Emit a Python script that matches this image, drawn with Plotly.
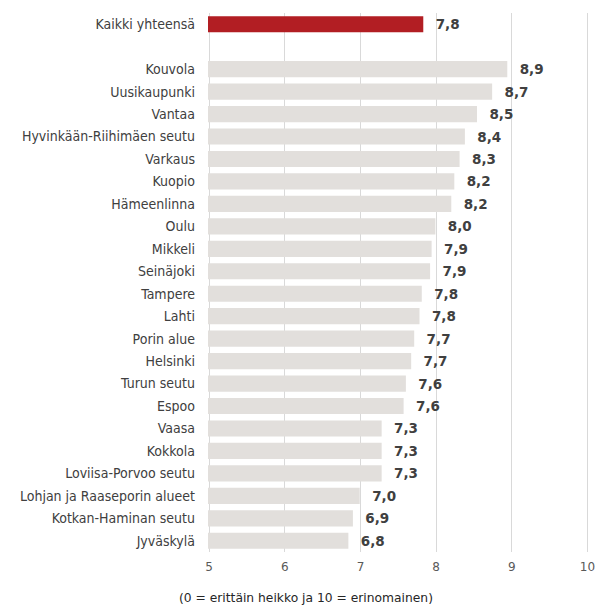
import plotly.graph_objects as go

categories = ["Kaikki yhteensä", " ", "Kouvola", "Uusikaupunki", "Vantaa", "Hyvinkään-Riihimäen seutu",
              "Varkaus", "Kuopio", "Hämeenlinna", "Oulu", "Mikkeli", "Seinäjoki", "Tampere", "Lahti",
              "Porin alue", "Helsinki", "Turun seutu", "Espoo", "Vaasa", "Kokkola", "Loviisa-Porvoo seutu",
              "Lohjan ja Raaseporin alueet", "Kotkan-Haminan seutu", "Jyväskylä"]
values = [7.83, None, 8.94, 8.74, 8.54, 8.38, 8.31, 8.24, 8.20, 7.99, 7.94, 7.92, 7.81, 7.78,
          7.71, 7.67, 7.60, 7.57, 7.28, 7.28, 7.28, 6.99, 6.90, 6.84]
value_labels = ["7,8", "", "8,9", "8,7", "8,5", "8,4", "8,3", "8,2", "8,2", "8,0", "7,9", "7,9", "7,8", "7,8",
                "7,7", "7,7", "7,6", "7,6", "7,3", "7,3", "7,3", "7,0", "6,9", "6,8"]
x_ticks = [5, 6, 7, 8, 9, 10]
axis_note = "(0 = erittäin heikko ja 10 = erinomainen)"

colors = ["#B21E23" if c == "Kaikki yhteensä" else "#E2DFDC" for c in categories]

W, H = 595, 615
L, R, T, B = 208, 6, 13, 63

fig = go.Figure(go.Bar(
    x=values, y=categories, orientation="h",
    marker=dict(color=colors, line=dict(width=0)),
    width=0.72,
    text=value_labels, texttemplate="  %{text}", textposition="outside",
    textfont=dict(family="DejaVu Sans", size=13.5, color="#404040", weight="bold"),
    cliponaxis=False,
    hoverinfo="skip",
))

fig.update_layout(
    width=W, height=H,
    margin=dict(l=L, r=R, t=T, b=B, autoexpand=False),
    plot_bgcolor="white", paper_bgcolor="white",
    showlegend=False,
    font=dict(family="DejaVu Sans Condensed", color="#404040"),
    xaxis=dict(range=[4.985, 10.02], tickvals=x_ticks, ticktext=[str(t) for t in x_ticks],
               showgrid=True, gridcolor="#D9D9D9", gridwidth=1, zeroline=False, showline=False,
               tickfont=dict(size=12, color="#595959", family="DejaVu Sans"), ticks="",
               ticklabelstandoff=6, automargin=False, ticklabeloverflow="allow"),
    yaxis=dict(categoryorder="array", categoryarray=categories, autorange="reversed",
               showgrid=False, zeroline=False, showline=False, ticks="",
               tickfont=dict(size=14, color="#404040", family="DejaVu Sans Condensed"),
               ticklabelstandoff=12, automargin=False),
    annotations=[dict(text=axis_note,
                      x=(306 - L) / (W - L - R), xref="paper",
                      y=-(598 - (H - B)) / (H - B - T), yref="paper",
                      xanchor="center", yanchor="middle", showarrow=False,
                      font=dict(size=12.3, color="#262626", family="DejaVu Sans"))],
)

fig.write_html("out.html", config={"displayModeBar": False},
               post_script="document.body.style.margin='0';document.body.style.overflow='hidden';")
